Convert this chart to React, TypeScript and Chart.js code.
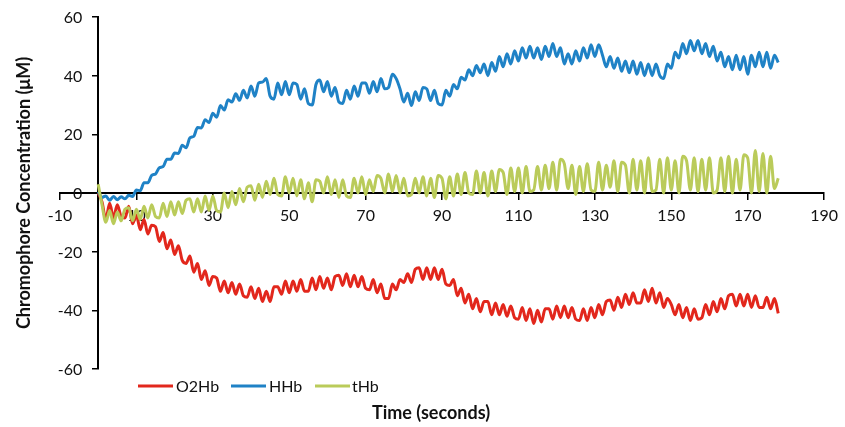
import React, { useEffect, useRef } from "react";
import { Chart, registerables } from "chart.js";

Chart.register(...registerables);

// Sampled once per second from t = 0 s to t = 178 s
const O2HB = [
  0.0, -3.0, -9.0, -3.5, -8.5, -4.0, -8.0, -8.5, -4.5, -10.5,
  -7.5, -12.5, -9.0, -14.0, -11.0, -11.5, -16.5, -13.5, -19.0, -16.0,
  -21.0, -18.0, -23.0, -24.0, -21.5, -27.0, -24.0, -29.5, -26.5, -31.5,
  -28.5, -29.0, -33.5, -30.0, -34.0, -30.5, -34.5, -31.0, -35.0, -35.5,
  -32.0, -36.0, -32.5, -37.0, -33.5, -37.0, -32.0, -32.0, -34.5, -30.0,
  -34.0, -30.0, -33.5, -29.5, -33.5, -33.5, -29.0, -33.0, -28.5, -32.5,
  -29.0, -33.0, -28.5, -28.0, -31.5, -27.5, -32.0, -28.0, -32.0, -28.5,
  -32.5, -33.0, -29.5, -34.0, -31.0, -36.0, -36.0, -31.0, -33.0, -29.5,
  -30.5, -27.5, -30.5, -26.0, -25.5, -29.5, -25.5, -29.5, -25.5, -29.5,
  -26.0, -31.0, -31.5, -29.5, -35.0, -32.5, -37.5, -34.5, -39.5, -36.0,
  -40.5, -37.0, -37.0, -41.5, -37.5, -41.5, -38.0, -42.0, -38.5, -42.5,
  -43.0, -39.0, -43.5, -39.5, -44.5, -40.0, -44.0, -39.5, -39.5, -43.0,
  -38.5, -42.5, -38.5, -42.5, -39.0, -43.0, -43.5, -39.5, -43.5, -39.0,
  -42.5, -38.0, -41.5, -37.0, -36.5, -40.0, -35.5, -39.0, -34.5, -38.0,
  -34.0, -37.5, -37.5, -33.0, -37.0, -32.5, -37.5, -34.0, -39.0, -36.0,
  -38.0, -41.5, -38.0, -42.5, -39.0, -43.5, -39.5, -43.0, -42.5, -38.0,
  -41.5, -37.0, -40.5, -36.0, -39.5, -35.0, -34.5, -38.5, -34.5, -38.5,
  -34.5, -39.0, -35.0, -39.0, -39.0, -35.5, -39.5, -36.0, -41.0,
];

const HHB = [
  0.5, -1.5, -1.0, -2.5, -1.2, -2.3, -1.3, -2.0, -0.8, -1.2,
  1.0, 0.8, 3.5, 3.5, 6.0, 6.5, 8.6, 9.0, 11.5, 11.5,
  13.6, 13.5, 16.3, 15.4, 18.8, 19.3, 22.3, 22.2, 25.0, 24.0,
  27.2, 25.8, 29.8, 28.3, 31.8, 31.0, 33.8, 31.6, 35.0, 32.4,
  36.5, 33.0, 37.5, 37.8, 39.0, 33.0, 32.0, 37.5, 33.5, 38.0,
  33.5, 37.5, 37.0, 32.0, 35.5, 30.5, 30.0, 37.0, 38.5, 34.5,
  38.0, 33.0, 36.0, 31.0, 30.5, 35.0, 32.0, 36.5, 33.0, 37.5,
  37.5, 34.0, 38.0, 34.5, 39.0, 35.5, 36.0, 40.5, 39.0, 35.5,
  31.0, 34.0, 29.8, 34.5, 31.5, 36.0, 35.5, 31.5, 35.0, 30.5,
  30.0, 35.0, 33.0, 37.0, 35.5, 39.5, 38.5, 42.0, 40.0, 43.5,
  41.0, 44.0, 40.0, 44.5, 41.5, 46.5, 43.0, 47.5, 44.0, 48.5,
  45.0, 49.5, 46.0, 50.0, 46.0, 49.5, 45.5, 50.0, 46.5, 51.0,
  46.5, 49.5, 44.0, 47.5, 44.0, 48.5, 45.0, 49.5, 46.0, 50.5,
  46.5, 50.5, 47.0, 43.0, 46.5, 42.5, 46.0, 41.5, 45.0, 41.0,
  45.0, 40.5, 44.5, 40.0, 44.0, 40.0, 44.0, 40.0, 39.0, 44.0,
  42.5, 48.0, 46.0, 51.0, 47.5, 52.0, 48.5, 52.0, 47.5, 51.0,
  46.5, 50.0, 45.0, 48.0, 43.0, 46.5, 42.0, 47.0, 42.0, 46.5,
  40.5, 47.0, 43.0, 48.0, 43.0, 48.0, 42.5, 47.0, 44.5,
];

const THB = [
  3.0, -4.0, -10.0, -6.0, -10.5, -6.5, -9.5, -5.5, -5.0, -9.5,
  -5.5, -9.0, -4.5, -8.5, -4.0, -8.0, -8.5, -3.5, -8.0, -3.0,
  -7.5, -3.0, -7.0, -2.5, -2.0, -6.5, -2.0, -6.5, -1.0, -6.0,
  -1.0, -6.0, -6.5, 0.0, -5.0, 0.5, -4.0, 1.5, -3.0, 2.0,
  2.5, -2.5, 3.0, -1.5, 4.0, -0.5, 5.0, -0.5, -1.0, 5.5,
  0.0, 5.0, -1.0, 4.5, -2.0, 3.5, -3.0, 4.5, 4.0, 0.0,
  5.5, -0.5, 4.5, -1.5, 4.5, -1.0, -1.5, 5.0, 0.0, 5.5,
  -0.5, 4.5, 0.5, 6.0, 5.0, 0.0, 6.5, 0.5, 6.0, 0.0,
  5.0, -1.0, -0.5, 5.0, 0.0, 5.5, -1.0, 5.0, -1.5, 6.0,
  5.0, -2.0, 5.5, -1.0, 6.5, -0.5, 7.0, 0.0, -0.5, 7.5,
  0.0, 7.0, -1.0, 7.5, 0.5, 8.0, 7.0, -0.5, 8.5, 0.5,
  8.5, 0.0, 9.0, 0.5, 1.0, 9.0, 1.0, 9.5, 1.5, 10.5,
  1.0, 11.5, 10.0, 1.5, 9.5, -0.5, 9.0, 0.5, 10.0, 1.0,
  0.5, 10.5, 1.0, 9.5, 2.0, 11.0, 0.5, 10.5, 9.5, 0.0,
  11.5, 1.0, 11.0, 0.0, 12.0, 0.5, 1.0, 11.5, 0.0, 12.0,
  1.0, 11.0, 0.0, 12.5, 11.0, 1.0, 12.0, 0.5, 11.5, 1.0,
  12.0, 0.0, 1.0, 12.0, 0.5, 12.5, 0.0, 11.5, 1.0, 13.0,
  12.0, 0.0, 14.5, 0.5, 13.5, 0.0, 12.5, 1.5, 5.0,
];

const SERIES_NAMES = ["O2Hb", "HHb", "tHb"];
const SERIES_COLORS = ["#E2271C", "#1F82C6", "#BACB5A"];
const X_TICKS = [-10, 10, 30, 50, 70, 90, 110, 130, 150, 170, 190];
const Y_TICKS = [-60, -40, -20, 0, 20, 40, 60];
const X_TITLE = "Time (seconds)";
const Y_TITLE = "Chromophore Concentration (\u03BCM)";

const FONT_FAMILY = "Lato, 'Open Sans', sans-serif";
const TEXT_COLOR = "#111";

export default function App() {
  const ref = useRef<HTMLCanvasElement | null>(null);

  useEffect(() => {
    document.body.style.margin = "0";
    const canvas = ref.current;
    if (!canvas) return;

    const seriesData = [O2HB, HHB, THB];
    const datasets = seriesData.map((vals, s) => ({
      label: SERIES_NAMES[s],
      data: vals.map((v, i) => ({ x: i, y: v })),
      borderColor: SERIES_COLORS[s],
      backgroundColor: SERIES_COLORS[s],
      borderWidth: 3,
      pointRadius: 0,
      cubicInterpolationMode: "monotone",
      fill: false,
      order: 2 - s,
    }));

    const overlay = {
      id: "overlay",
      afterDraw(chart: any) {
        const ctx = chart.ctx;
        const xs = chart.scales.x;
        const ys = chart.scales.y;
        ctx.save();
        ctx.fillStyle = TEXT_COLOR;
        // Y tick labels (left of the axis that crosses at x = 0)
        ctx.font = `16px ${FONT_FAMILY}`;
        ctx.textAlign = "right";
        ctx.textBaseline = "middle";
        const axisX = xs.getPixelForValue(0);
        Y_TICKS.forEach((v) => {
          ctx.fillText(String(v), axisX - 16, ys.getPixelForValue(v) + 1);
        });
        // X title
        ctx.font = `bold 18px ${FONT_FAMILY}`;
        ctx.textAlign = "center";
        ctx.textBaseline = "middle";
        ctx.fillText(X_TITLE, 431, 413);
        // Y title
        ctx.save();
        ctx.translate(24, 193);
        ctx.rotate(-Math.PI / 2);
        ctx.fillText(Y_TITLE, 0, 0);
        ctx.restore();
        // Legend
        const items = [
          { lx: 138, tx: 176 },
          { lx: 231, tx: 269 },
          { lx: 315, tx: 352 },
        ];
        ctx.font = `16px ${FONT_FAMILY}`;
        ctx.textAlign = "left";
        items.forEach((it, s) => {
          ctx.strokeStyle = SERIES_COLORS[s];
          ctx.lineWidth = 3;
          ctx.beginPath();
          ctx.moveTo(it.lx, 386);
          ctx.lineTo(it.lx + 35, 386);
          ctx.stroke();
          ctx.fillStyle = TEXT_COLOR;
          ctx.fillText(SERIES_NAMES[s], it.tx, 387);
        });
        ctx.restore();
      },
    };

    const tickFont = { family: FONT_FAMILY, size: 16 };

    const chart = new Chart(canvas, {
      type: "line",
      data: { datasets: datasets as any },
      options: {
        animation: false,
        responsive: false,
        maintainAspectRatio: false,
        layout: { padding: { left: 60, right: 16, top: 17, bottom: 58 } },
        plugins: {
          legend: { display: false },
          tooltip: { enabled: false },
        },
        scales: {
          x: {
            type: "linear",
            min: -10,
            max: 190,
            position: { y: 0 } as any,
            afterBuildTicks: (scale: any) => {
              scale.ticks = X_TICKS.map((v) => ({ value: v }));
            },
            grid: {
              display: true,
              drawOnChartArea: false,
              drawTicks: true,
              tickLength: 6,
              color: "#000",
              lineWidth: 1.5,
            },
            border: { display: true, color: "#000", width: 2 },
            ticks: {
              font: tickFont,
              color: TEXT_COLOR,
              padding: 7,
              maxRotation: 0,
              autoSkip: false,
            },
          },
          y: {
            type: "linear",
            min: -60,
            max: 60,
            position: { x: 0 } as any,
            afterBuildTicks: (scale: any) => {
              scale.ticks = Y_TICKS.map((v) => ({ value: v }));
            },
            grid: {
              display: true,
              drawOnChartArea: false,
              drawTicks: true,
              tickLength: 5,
              color: "#000",
              lineWidth: 1.5,
            },
            border: { display: true, color: "#000", width: 2 },
            ticks: { display: false },
          },
        },
      },
      plugins: [overlay],
    });

    return () => chart.destroy();
  }, []);

  return (
    <div style={{ width: 845, height: 427, position: "relative", background: "#fff" }}>
      <canvas ref={ref} width={845} height={427} style={{ width: 845, height: 427, display: "block" }} />
    </div>
  );
}
